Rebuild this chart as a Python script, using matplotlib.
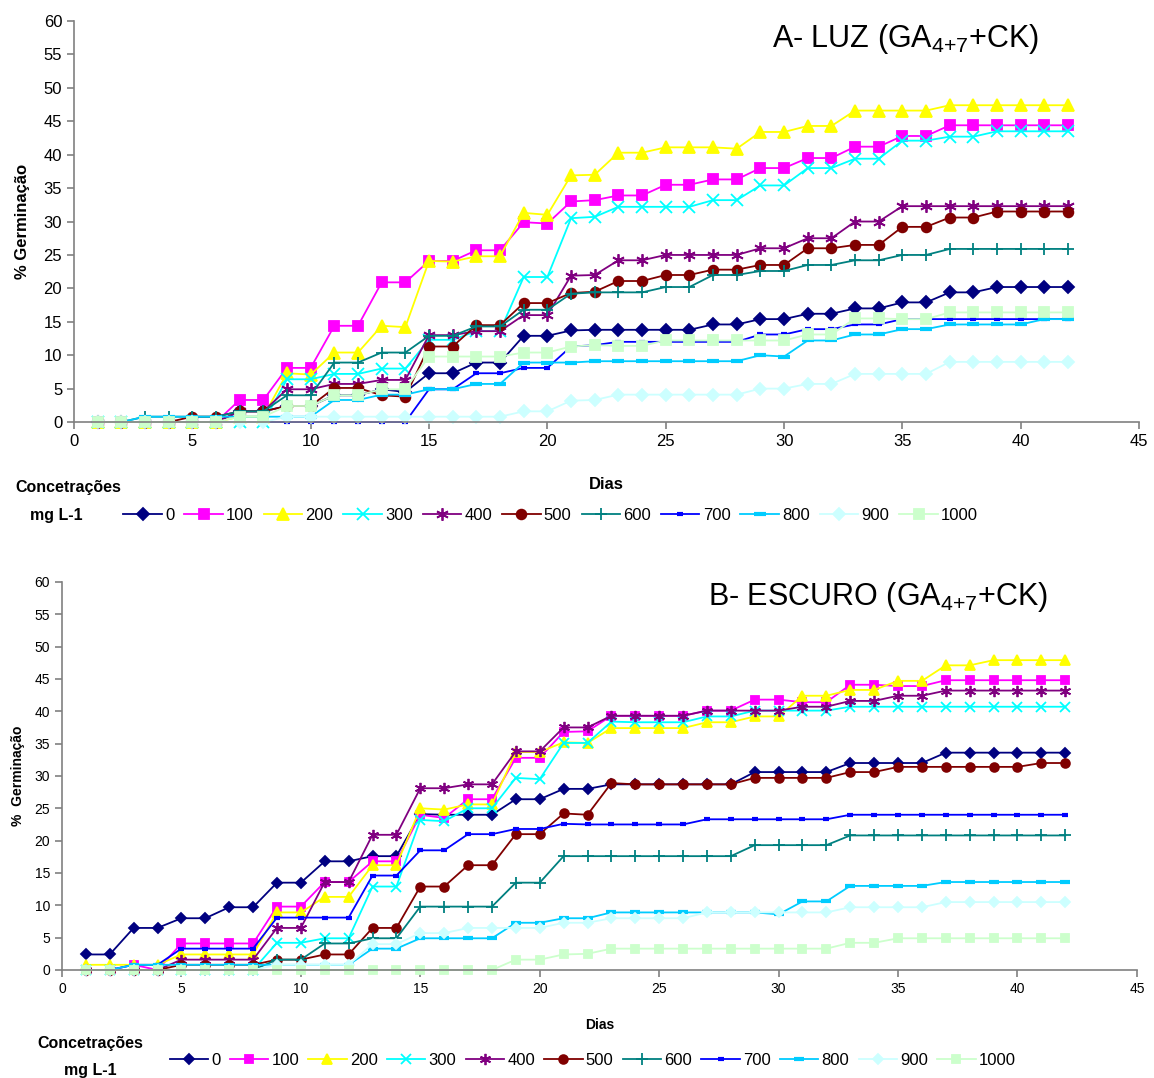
import matplotlib
matplotlib.use("Agg")
import matplotlib.pyplot as plt
import numpy as np

plt.rcParams['font.family'] = ['Liberation Sans', 'DejaVu Sans']
plt.rcParams['mathtext.fontset'] = 'custom'
plt.rcParams['mathtext.rm'] = 'Liberation Sans'

# dias de observacao
dias = np.arange(1, 43)
concentracoes = ['0', '100', '200', '300', '400', '500', '600', '700', '800', '900', '1000']

# A - LUZ
luz_0 = [0, 0, 0, 0, 0, 0, 1.6, 1.6, 2.4, 2.4, 4.0, 4.0, 4.9, 4.5, 7.3, 7.3, 8.9, 8.9, 12.9, 12.9, 13.7,
         13.8, 13.8, 13.8, 13.8, 13.8, 14.6, 14.6, 15.4, 15.4, 16.2, 16.2, 17.0, 17.0, 17.9, 17.9, 19.4, 19.4,
         20.2, 20.2, 20.2, 20.2]
luz_100 = [0, 0, 0, 0, 0, 0, 3.3, 3.3, 8.1, 8.1, 14.4, 14.4, 20.9, 20.9, 24.1, 24.1, 25.7, 25.7, 29.9, 29.7,
           33.0, 33.2, 33.9, 33.9, 35.5, 35.5, 36.3, 36.3, 38.0, 38.0, 39.5, 39.5, 41.2, 41.2, 42.8, 42.8,
           44.4, 44.4, 44.4, 44.4, 44.4, 44.4]
luz_200 = [0, 0, 0, 0, 0, 0, 0.8, 0.8, 7.3, 7.1, 10.4, 10.4, 14.4, 14.2, 24.1, 24.0, 24.8, 24.8, 31.3, 31.0,
           36.9, 37.0, 40.3, 40.3, 41.1, 41.1, 41.1, 40.9, 43.4, 43.4, 44.3, 44.3, 46.6, 46.6, 46.6, 46.6,
           47.4, 47.4, 47.4, 47.4, 47.4, 47.4]
luz_300 = [0, 0, 0, 0, 0, 0, 0, 0, 6.4, 6.4, 7.2, 7.2, 8.0, 8.0, 12.3, 12.3, 13.6, 13.6, 21.7, 21.7,
           30.5, 30.7, 32.2, 32.2, 32.2, 32.2, 33.2, 33.2, 35.4, 35.4, 38.0, 38.0, 39.4, 39.4, 42.1, 42.1,
           42.7, 42.7, 43.5, 43.5, 43.5, 43.5]
luz_400 = [0, 0, 0, 0, 0, 0, 1.6, 1.6, 4.9, 4.9, 5.7, 5.7, 6.3, 6.3, 13.0, 13.0, 13.6, 13.6, 16.0, 16.0,
           21.9, 22.0, 24.2, 24.2, 25.0, 25.0, 25.0, 25.0, 26.0, 26.0, 27.5, 27.5, 30.0, 30.0, 32.3, 32.3,
           32.3, 32.3, 32.3, 32.3, 32.3, 32.3]
luz_500 = [0, 0, 0, 0, 0.8, 0.8, 1.6, 1.6, 2.4, 2.4, 5.1, 5.1, 4.0, 3.8, 11.3, 11.3, 14.5, 14.5, 17.8, 17.8,
           19.3, 19.5, 21.1, 21.1, 22.0, 22.0, 22.8, 22.8, 23.5, 23.5, 26.0, 26.0, 26.5, 26.5, 29.2, 29.2,
           30.6, 30.6, 31.5, 31.5, 31.5, 31.5]
luz_600 = [0, 0, 0.8, 0.8, 0.8, 0.8, 1.6, 1.6, 4.0, 4.0, 8.9, 8.9, 10.4, 10.4, 12.9, 12.9, 14.3, 14.3, 16.8,
           16.8, 19.2, 19.4, 19.4, 19.4, 20.2, 20.2, 22.0, 22.0, 22.6, 22.6, 23.5, 23.5, 24.2, 24.2, 25.0,
           25.0, 25.9, 25.9, 25.9, 25.9, 25.9, 25.9]
luz_700 = [0, 0, 0, 0, 0, 0, 0, 0, 0, 0, 0, 0, 0, 0, 4.9, 4.9, 7.3, 7.3, 8.1, 8.1, 11.3, 11.5, 12.0, 12.0,
           12.0, 12.0, 12.0, 12.0, 13.1, 13.1, 13.9, 13.9, 14.6, 14.6, 15.4, 15.4, 15.4, 15.4, 15.4, 15.4,
           15.4, 15.4]
luz_800 = [0, 0, 0.8, 0.8, 0.8, 0.8, 0.8, 0.8, 0.8, 0.8, 3.3, 3.3, 4.1, 4.1, 4.9, 4.9, 5.7, 5.7, 8.9, 8.9,
           8.9, 9.1, 9.1, 9.1, 9.1, 9.1, 9.1, 9.1, 10.0, 9.8, 12.2, 12.2, 13.1, 13.1, 13.9, 13.9, 14.6, 14.6,
           14.6, 14.6, 15.4, 15.4]
luz_900 = [0, 0, 0, 0, 0, 0, 0, 0, 0.8, 0.8, 0.8, 0.8, 0.8, 0.8, 0.8, 0.8, 0.8, 0.8, 1.6, 1.6, 3.2, 3.3,
           4.1, 4.1, 4.1, 4.1, 4.1, 4.1, 5.0, 5.0, 5.7, 5.7, 7.2, 7.2, 7.2, 7.2, 9.0, 9.0, 9.0, 9.0, 9.0, 9.0]
luz_1000 = [0, 0, 0, 0, 0, 0, 0.8, 0.8, 2.4, 2.4, 4.0, 4.0, 4.9, 4.9, 9.8, 9.8, 9.8, 9.8, 10.4, 10.4, 11.3,
            11.5, 11.4, 11.4, 12.2, 12.2, 12.2, 12.2, 12.2, 12.2, 13.1, 13.1, 15.5, 15.5, 15.4, 15.4, 16.4,
            16.4, 16.4, 16.4, 16.4, 16.4]

# B - ESCURO
esc_0 = [2.4, 2.4, 6.5, 6.5, 8.0, 8.0, 9.7, 9.7, 13.5, 13.5, 16.8, 16.8, 17.6, 17.6, 24.1, 24.0, 24.0, 24.0,
         26.4, 26.4, 28.0, 28.0, 28.7, 28.7, 28.7, 28.7, 28.7, 28.7, 30.6, 30.6, 30.6, 30.6, 32.0, 32.0,
         32.0, 32.0, 33.6, 33.6, 33.6, 33.6, 33.6, 33.6]
esc_100 = [0, 0, 0.8, 0, 4.1, 4.1, 4.1, 4.1, 9.8, 9.8, 13.6, 13.6, 16.8, 16.8, 24.0, 23.5, 26.4, 26.4, 32.8,
           32.8, 36.8, 36.9, 39.3, 39.3, 39.3, 39.3, 40.1, 40.1, 41.8, 41.8, 41.4, 41.4, 44.1, 44.1, 43.9,
           43.9, 44.8, 44.8, 44.8, 44.8, 44.8, 44.8]
esc_200 = [0.8, 0.8, 0.8, 0.8, 2.4, 2.4, 2.4, 2.4, 8.9, 8.9, 11.3, 11.3, 16.2, 16.2, 25.0, 24.8, 25.6, 25.6,
           33.7, 33.7, 35.2, 35.1, 37.4, 37.4, 37.4, 37.4, 38.3, 38.3, 39.2, 39.2, 42.4, 42.4, 43.3, 43.3,
           44.7, 44.7, 47.1, 47.1, 47.9, 47.9, 47.9, 47.9]
esc_300 = [0, 0, 0, 0, 0, 0, 0, 0, 4.2, 4.2, 4.9, 4.9, 12.9, 12.9, 23.2, 23.0, 25.0, 25.0, 29.7, 29.5, 35.1,
           35.1, 38.4, 38.3, 38.3, 38.3, 39.2, 39.2, 40.1, 40.1, 40.1, 40.1, 40.7, 40.7, 40.7, 40.7, 40.7,
           40.7, 40.7, 40.7, 40.7, 40.7]
esc_400 = [0, 0, 0, 0, 1.6, 1.6, 1.6, 1.6, 6.5, 6.5, 13.6, 13.6, 20.9, 20.9, 28.1, 28.1, 28.7, 28.7, 33.8,
           33.8, 37.5, 37.5, 39.3, 39.3, 39.3, 39.3, 40.1, 40.1, 40.1, 40.1, 40.7, 40.7, 41.6, 41.6, 42.4,
           42.4, 43.2, 43.2, 43.2, 43.2, 43.2, 43.2]
esc_500 = [0, 0, 0, 0, 0.8, 0.8, 0.8, 0.8, 1.6, 1.6, 2.4, 2.4, 6.5, 6.5, 12.9, 12.9, 16.2, 16.2, 21.0, 21.0,
           24.2, 24.0, 28.9, 28.7, 28.7, 28.7, 28.7, 28.7, 29.7, 29.7, 29.7, 29.7, 30.6, 30.6, 31.4, 31.4,
           31.4, 31.4, 31.4, 31.4, 32.0, 32.0]
esc_600 = [0, 0, 0, 0, 0, 0, 0, 0, 1.6, 1.6, 4.1, 4.1, 4.9, 4.9, 9.8, 9.8, 9.8, 9.8, 13.5, 13.5, 17.6, 17.6,
           17.6, 17.6, 17.6, 17.6, 17.6, 17.6, 19.3, 19.3, 19.3, 19.3, 20.8, 20.8, 20.8, 20.8, 20.8, 20.8,
           20.8, 20.8, 20.8, 20.8]
esc_700 = [0, 0, 0.8, 0.8, 3.3, 3.3, 3.3, 3.3, 8.1, 8.1, 8.1, 8.1, 14.6, 14.6, 18.5, 18.5, 21.0, 21.0, 21.8,
           21.8, 22.6, 22.5, 22.5, 22.5, 22.5, 22.5, 23.3, 23.3, 23.3, 23.3, 23.3, 23.3, 24.0, 24.0, 24.0,
           24.0, 24.0, 24.0, 24.0, 24.0, 24.0, 24.0]
esc_800 = [0, 0, 0.8, 0.8, 0.8, 0.8, 0.8, 0.8, 0.8, 0.8, 0.8, 0.8, 3.3, 3.3, 4.9, 4.9, 4.9, 4.9, 7.3, 7.3,
           8.0, 8.0, 8.9, 8.9, 8.9, 8.9, 8.9, 8.9, 8.9, 8.6, 10.6, 10.6, 13.0, 13.0, 13.0, 13.0, 13.6, 13.6,
           13.6, 13.6, 13.6, 13.6]
esc_900 = [0, 0, 0, 0, 0, 0, 0, 0, 0.8, 0.8, 0.8, 0.8, 4.0, 4.0, 5.7, 5.7, 6.5, 6.5, 6.5, 6.5, 7.3, 7.3, 8.0,
           8.0, 8.0, 8.0, 8.9, 8.9, 8.9, 8.9, 8.9, 8.9, 9.7, 9.7, 9.7, 9.7, 10.5, 10.5, 10.5, 10.5, 10.5, 10.5]
esc_1000 = [0, 0, 0, 0, 0, 0, 0, 0, 0, 0, 0, 0, 0, 0, 0, 0, 0, 0, 1.6, 1.6, 2.4, 2.5, 3.3, 3.3, 3.3, 3.3,
            3.3, 3.3, 3.3, 3.3, 3.3, 3.3, 4.2, 4.2, 4.9, 4.9, 4.9, 4.9, 4.9, 4.9, 4.9, 4.9]

luz = [luz_0, luz_100, luz_200, luz_300, luz_400, luz_500, luz_600, luz_700, luz_800, luz_900, luz_1000]
escuro = [esc_0, esc_100, esc_200, esc_300, esc_400, esc_500, esc_600, esc_700, esc_800, esc_900, esc_1000]

# estilo tipo excel
cores = ['#000080', '#FF00FF', '#FFFF00', '#00FFFF', '#800080', '#800000',
         '#008080', '#0000FF', '#00CCFF', '#CCFFFF', '#CCFFCC']
marcadores = ['D', 's', '^', 'x', (6, 2, 0), 'o', '+', '_', '_', 'D', 's']
tamanhos = [6, 7, 8, 8, 9, 7, 9, 5, 8, 6, 7]

fig = plt.figure(figsize=(11.54, 10.78), dpi=100)
ax1 = fig.add_axes([0.0641, 0.6085, 0.923, 0.372])
ax2 = fig.add_axes([0.0537, 0.1002, 0.9315, 0.360])


def painel(ax, series, esc, fs):
    linhas = []
    for i, y in enumerate(series):
        m = marcadores[i]
        mew = 1.3
        if m == '_':
            mew = 3
        l, = ax.plot(dias, y, color=cores[i], marker=m, markersize=tamanhos[i] * esc,
                     markeredgewidth=mew, lw=1.3, label=concentracoes[i])
        l.set_clip_on(False)
        linhas.append(l)
    ax.set_xlim(0, 45)
    ax.set_ylim(0, 60)
    ax.set_xticks(range(0, 46, 5))
    ax.set_yticks(range(0, 61, 5))
    ax.spines['top'].set_visible(False)
    ax.spines['right'].set_visible(False)
    for s in ['left', 'bottom']:
        ax.spines[s].set_color('#808080')
        ax.spines[s].set_linewidth(1.2)
    ax.tick_params(colors='#808080', labelcolor='black', labelsize=fs, length=5, width=1.2)
    return linhas


h1 = painel(ax1, luz, 1.0, 12)
h2 = painel(ax2, escuro, 0.9, 10)

ax1.set_ylabel('% Germinação', fontsize=12, fontweight='bold', labelpad=10)
ax1.set_xlabel('Dias', fontsize=12, fontweight='bold', labelpad=20)
ax2.set_ylabel('%  Germinação', fontsize=10, fontweight='bold', labelpad=7)
ax2.set_xlabel('Dias', fontsize=10, fontweight='bold', labelpad=16)

fig.text(0.785, 0.964, r'A- LUZ (GA$_{\mathrm{4{+}7}}$+CK)', fontsize=22, ha='center', va='center')
fig.text(0.761, 0.446, r'B- ESCURO (GA$_{\mathrm{4{+}7}}$+CK)', fontsize=22, ha='center', va='center')

# legendas
fig.text(0.059, 0.548, 'Concetrações', fontsize=11.5, fontweight='bold', ha='center', va='center')
fig.text(0.049, 0.522, 'mg L-1', fontsize=11.5, fontweight='bold', ha='center', va='center')
fig.legend(handles=h1, loc='center left', bbox_to_anchor=(0.094, 0.522), ncol=11, frameon=False,
           fontsize=12, handlelength=2.3, handletextpad=0.2, columnspacing=0.6)

fig.text(0.078, 0.032, 'Concetrações', fontsize=11.5, fontweight='bold', ha='center', va='center')
fig.text(0.078, 0.007, 'mg L-1', fontsize=11.5, fontweight='bold', ha='center', va='center')
fig.legend(handles=h2, loc='center left', bbox_to_anchor=(0.134, 0.016), ncol=11, frameon=False,
           fontsize=12, handlelength=2.3, handletextpad=0.2, columnspacing=0.55)

plt.savefig('out.png', dpi=100)
